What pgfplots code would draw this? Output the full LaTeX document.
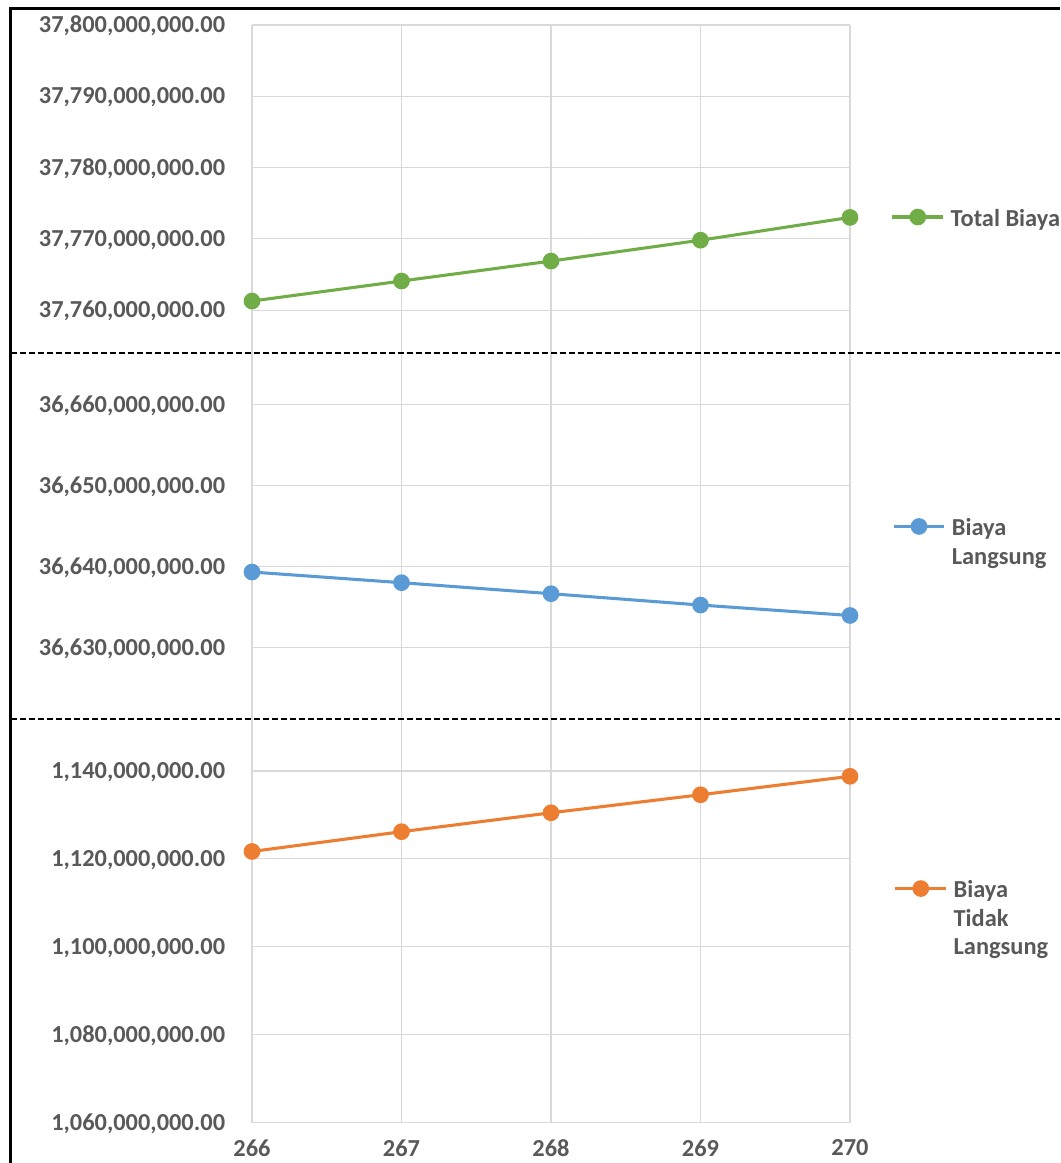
\documentclass[border=0pt]{standalone}
\usepackage{fontspec}
\setmainfont{Carlito}
\usepackage{pgfplots}
\pgfplotsset{compat=1.18}
\definecolor{tickgray}{HTML}{595959}
\definecolor{gridgray}{HTML}{D9D9D9}
\definecolor{cgreen}{HTML}{70AD47}
\definecolor{cblue}{HTML}{5B9BD5}
\definecolor{corange}{HTML}{ED7D31}
\pgfplotsset{
  panel/.style={
    scale only axis, width=448.5pt, xmin=266, xmax=270, xtick={266,267,268,269,270},
    scaled y ticks=false, scaled x ticks=false,
    axis line style={draw=none}, tick style={draw=none},
    xmajorgrids, ymajorgrids, grid style={gridgray, line width=0.8pt},
    clip=false, anchor=south west,
    yticklabel style={anchor=base east, inner sep=0pt, xshift=-20pt, yshift=-5.7pt,
      font=\fontsize{18.3}{21}\selectfont\bfseries, text=tickgray},
    xticklabel style={anchor=north, inner sep=0pt, yshift=-12.5pt,
      font=\fontsize{18.3}{21}\selectfont\bfseries, text=tickgray},
    legend style={draw=none, fill=none, inner sep=0pt, anchor=north west,
      font=\fontsize{18.3}{21.5}\selectfont\bfseries, text=tickgray,
      nodes={inner sep=0pt}, /tikz/every odd column/.style={column sep=4.5pt}},
    legend cell align=left,
    legend image code/.code={\draw[mark repeat=2,mark phase=2,#1] plot coordinates {(0pt,0pt) (19pt,0pt) (38pt,0pt)};},
  },
  series/.style={#1, line width=2.3pt, mark=*, mark size=5.1pt, mark options={solid, fill=#1}},
}
\begin{document}
\begin{tikzpicture}
\useasboundingbox (0pt,0pt) rectangle (795pt,-872.25pt);
% top panel: Total Biaya
\begin{axis}[panel, at={(189pt,-264.75pt)}, height=246pt,
  ymin=37753970000, ymax=37800000000,
  ytick={37760000000,37770000000,37780000000,37790000000,37800000000},
  yticklabels={{37,760,000,000.00},{37,770,000,000.00},{37,780,000,000.00},{37,790,000,000.00},{37,800,000,000.00}},
  xticklabels={,,,,},
  legend style={at={(1.068,0.449)}}]
\addplot[series=cgreen] table {
x y
266 37761260000
267 37764070000
268 37766870000
269 37769800000
270 37773000000
};
\addlegendentry{{\begin{tabular}[t]{@{}l@{}}Total Biaya\end{tabular}}}
\end{axis}
% middle panel: Biaya Langsung
\begin{axis}[panel, at={(189pt,-539.25pt)}, height=274.5pt,
  ymin=36621180000, ymax=36666400000,
  ytick={36630000000,36640000000,36650000000,36660000000},
  yticklabels={{36,630,000,000.00},{36,640,000,000.00},{36,650,000,000.00},{36,660,000,000.00}},
  xticklabels={,,,,},
  legend style={at={(1.070,0.557)}}]
\addplot[series=cblue] table {
x y
266 36639340000
267 36638020000
268 36636660000
269 36635260000
270 36633970000
};
\addlegendentry{{\begin{tabular}[t]{@{}l@{}}Biaya\\Langsung\end{tabular}}}
\end{axis}
% bottom panel: Biaya Tidak Langsung
\begin{axis}[panel, at={(189pt,-842.03pt)}, height=302.78pt,
  ymin=1060000000, ymax=1151830000,
  ytick={1060000000,1080000000,1100000000,1120000000,1140000000},
  yticklabels={{1,060,000,000.00},{1,080,000,000.00},{1,100,000,000.00},{1,120,000,000.00},{1,140,000,000.00}},
  xticklabels={266,267,268,269,270},
  legend style={at={(1.073,0.608)}}]
\addplot[series=corange] table {
x y
266 1121700000
267 1126200000
268 1130500000
269 1134600000
270 1138800000
};
\addlegendentry{{\begin{tabular}[t]{@{}l@{}}Biaya\\Tidak\\Langsung\end{tabular}}}
\end{axis}
% separators and frame
\draw[line width=1.9pt, dash pattern=on 4.5pt off 2.25pt] (7.875pt,-264.75pt) -- (795pt,-264.75pt);
\draw[line width=1.9pt, dash pattern=on 4.5pt off 2.25pt] (7.875pt,-539.25pt) -- (795pt,-539.25pt);
\draw[line width=2.4pt, line join=miter] (7.75pt,-872.25pt) -- (7.75pt,-6.2pt) -- (795pt,-6.2pt);
\end{tikzpicture}
\end{document}
